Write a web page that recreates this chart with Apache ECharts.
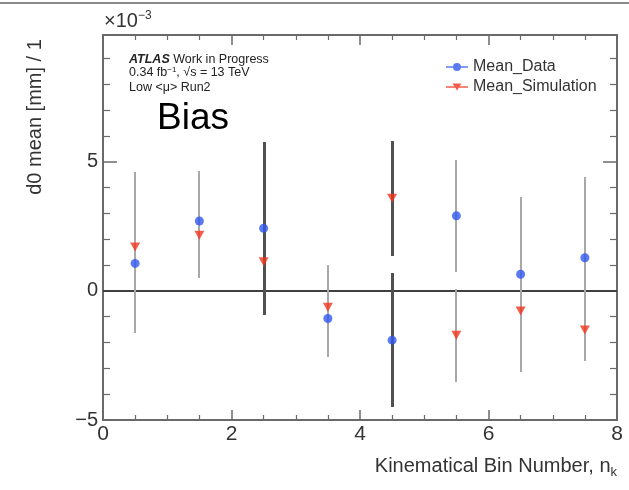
<!DOCTYPE html>
<html><head><meta charset="utf-8">
<script src="https://cdn.jsdelivr.net/npm/echarts@6/dist/echarts.min.js"></script>
<style>html,body{margin:0;padding:0;background:#fff}#c{width:629px;height:490px}</style>
</head><body><div id="c"></div>
<script>
// ---- data (values in units of 1e-3 mm) ----
const bins = [0.5, 1.5, 2.5, 3.5, 4.5, 5.5, 6.5, 7.5];
const meanData = [1.06, 2.70, 2.42, -1.07, -1.91, 2.90, 0.64, 1.28];
const errData  = [2.69, 1.95, 3.34, 1.51, 2.59, 2.17, 3.00, 3.12];
const meanSim  = [1.70, 2.15, 1.12, -0.64, 3.58, -1.72, -0.78, -1.52];
const errSim   = [2.91, 1.67, 2.00, 1.64, 2.22, 1.80, 2.36, 1.19];
const xTickLabels = [0, 2, 4, 6, 8];
const yTickLabels = [-5, 0, 5];
const seriesNames = ['Mean_Data', 'Mean_Simulation'];

// ---- style ----
const FONT = 'Liberation Sans, Arial, sans-serif';
const AXIS_COLOR = '#6a6a6a';
const darkData = [2, 4];
const darkSim = [4];

const chart = echarts.init(document.getElementById('c'), null, {renderer: 'canvas'});

function errSeries(name, mean, err, darkIdx, z) {
  return {
    type: 'custom', name: name, silent: true, z: z,
    xAxisIndex: 0, yAxisIndex: 0,
    data: bins.map((b, i) => [b, mean[i] - err[i], mean[i] + err[i]]),
    encode: {x: 0, y: [1, 2]},
    renderItem: function (params, api) {
      const lo = api.coord([api.value(0), api.value(1)]);
      const hi = api.coord([api.value(0), api.value(2)]);
      const dark = darkIdx.indexOf(params.dataIndex) >= 0;
      const x = Math.round(lo[0]) + (dark ? 0.5 : 0);
      return {
        type: 'line', z2: dark ? 10 : 0,
        shape: {x1: x, y1: Math.round(lo[1]), x2: x, y2: Math.round(hi[1])},
        style: {stroke: dark ? '#505050' : '#a8a8a8', lineWidth: dark ? 3 : 2}
      };
    }
  };
}

function xAx(pos, showLabel) {
  return {
    type: 'value', position: pos, min: 0, max: 8, interval: 2,
    axisLine: {show: true, onZero: false, lineStyle: {color: AXIS_COLOR, width: 2}},
    axisTick: {show: true, inside: true, length: 10, lineStyle: {color: AXIS_COLOR, width: 1.5}},
    minorTick: {show: true, splitNumber: 4, length: 5, lineStyle: {color: AXIS_COLOR, width: 1.2}},
    splitLine: {show: false},
    axisLabel: {show: showLabel, fontSize: 21, color: '#333', fontFamily: FONT, margin: 4,
      formatter: v => xTickLabels.indexOf(v) >= 0 ? String(v) : ''}
  };
}
function yAx(pos, showLabel) {
  return {
    type: 'value', position: pos, min: -5, max: 9.9, interval: 5,
    axisLine: {show: true, onZero: false, lineStyle: {color: AXIS_COLOR, width: 2}},
    axisTick: {show: true, inside: true, length: 14, lineStyle: {color: AXIS_COLOR, width: 1.5}},
    minorTick: {show: true, splitNumber: 5, length: 7, lineStyle: {color: AXIS_COLOR, width: 1.2}},
    splitLine: {show: false},
    axisLabel: {show: showLabel, fontSize: 20, color: '#333', fontFamily: FONT, margin: 5,
      formatter: v => yTickLabels.indexOf(v) >= 0 ? (v < 0 ? '\u2212' + (-v) : String(v)) : ''}
  };
}

const option = {
  backgroundColor: '#fff',
  animation: false,
  grid: {left: 103, right: 12, top: 35, bottom: 70, containLabel: false},
  xAxis: [xAx('bottom', true), xAx('top', false)],
  yAxis: [yAx('left', true), yAx('right', false)],
  legend: {
    orient: 'vertical', left: 441, top: 54, itemWidth: 22, itemHeight: 10, itemGap: 4,
    textStyle: {fontSize: 16, color: '#333', fontFamily: FONT},
    data: [
      {name: seriesNames[0], icon: 'path://M0,4.3h22v1.4h-22z M11,1a4,4 0 1,1 -0.01,0z'},
      {name: seriesNames[1], icon: 'path://M0,4.3h22v1.4h-22z M6.5,1.5h9l-4.5,7z'}
    ]
  },
  series: [
    errSeries('errSim', meanSim, errSim, darkSim, 2),
    errSeries('errData', meanData, errData, darkData, 3),
    {
      type: 'scatter', name: seriesNames[1], z: 4,
      data: bins.map((b, i) => [b, meanSim[i]]),
      symbol: 'triangle', symbolRotate: 180, symbolSize: [10, 9],
      itemStyle: {color: '#f2351e'}
    },
    {
      type: 'scatter', name: seriesNames[0], z: 5,
      data: bins.map((b, i) => [b, meanData[i]]),
      symbol: 'circle', symbolSize: 9,
      itemStyle: {color: '#3158f0'},
      markLine: {
        silent: true, symbol: ['none', 'none'], z: 1,
        label: {show: false},
        lineStyle: {color: '#404040', width: 2, type: 'solid'},
        data: [{yAxis: 0}]
      }
    }
  ],
  graphic: [
    {type: 'line', shape: {x1: 0, y1: 3, x2: 629, y2: 3}, style: {stroke: '#8a8a8a', lineWidth: 2}},
    {type: 'text', left: 104, top: 10, style: {
      text: '\u00d710{s|\u22123}', font: '20px ' + FONT, fill: '#333',
      rich: {s: {fontSize: 12, fill: '#333', padding: [0, 0, 10, 0], fontFamily: FONT}}
    }},
    {type: 'text', left: 129, top: 53, style: {
      text: '{b|ATLAS} Work in Progress', font: '12.5px ' + FONT, fill: '#222',
      rich: {b: {fontWeight: 'bold', fontStyle: 'italic', fontSize: 12.5, fill: '#222', fontFamily: FONT}}
    }},
    {type: 'text', left: 129, top: 66, style: {
      text: '0.34 fb{s|\u22121}, \u221as = 13 TeV', font: '12.5px ' + FONT, fill: '#222',
      rich: {s: {fontSize: 8, fill: '#222', padding: [0, 0, 5, 0], fontFamily: FONT}}
    }},
    {type: 'text', left: 129, top: 81, style: {
      text: 'Low <\u03bc> Run2', font: '12.5px ' + FONT, fill: '#222'
    }},
    {type: 'text', left: 157, top: 100, style: {
      text: 'Bias', font: '37px ' + FONT, fill: '#000'
    }},
    {type: 'text', x: 35, y: 117, rotation: Math.PI / 2, style: {
      text: 'd0 mean [mm] / 1', font: '20px ' + FONT, fill: '#333',
      align: 'center', verticalAlign: 'middle'
    }},
    {type: 'text', right: 12, top: 456, style: {
      text: 'Kinematical Bin Number, n{s|k}', font: '20px ' + FONT, fill: '#333',
      rich: {s: {fontSize: 13, fill: '#333', padding: [12, 0, 0, 0], fontFamily: FONT}}
    }}
  ]
};
chart.setOption(option);
</script>
</body></html>
